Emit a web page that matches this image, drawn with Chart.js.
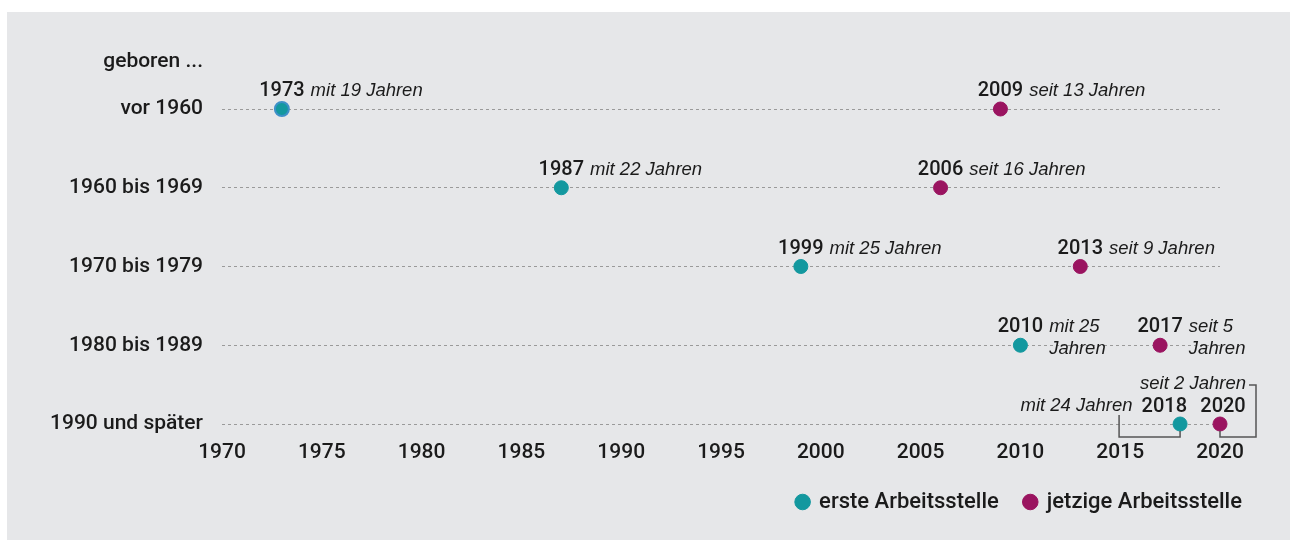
<!DOCTYPE html>
<html>
<head>
<meta charset="utf-8">
<script src="https://cdn.jsdelivr.net/npm/chart.js@4.4.0/dist/chart.umd.min.js"></script>
<style>
  html, body { margin: 0; padding: 0; background: #fff; }
  #wrap { width: 1290px; height: 540px; position: relative; }
</style>
</head>
<body>
<div id="wrap"><canvas id="chart"></canvas></div>
<script>
// data
const groups = ['vor 1960', '1960 bis 1969', '1970 bis 1979', '1980 bis 1989', '1990 und später'];
const firstJob = [1973, 1987, 1999, 2010, 2018];
const currentJob = [2009, 2006, 2013, 2017, 2020];
const firstNotes = ['mit 19 Jahren', 'mit 22 Jahren', 'mit 25 Jahren', 'mit 25 Jahren', 'mit 24 Jahren'];
const currentNotes = ['seit 13 Jahren', 'seit 16 Jahren', 'seit 9 Jahren', 'seit 5 Jahren', 'seit 2 Jahren'];
const xTicks = [1970, 1975, 1980, 1985, 1990, 1995, 2000, 2005, 2010, 2015, 2020];
const headerLabel = 'geboren ...';
const seriesNames = ['erste Arbeitsstelle', 'jetzige Arbeitsstelle'];

const TEAL = '#13989f';
const PLUM = '#9a1460';
const FONT = 'Roboto, "Liberation Sans", Arial, sans-serif';
const ITALIC = '"Liberation Sans", Arial, sans-serif';
const INK = '#1b1b1b';

// grey panel behind everything
const panelBg = {
  id: 'panelBg',
  beforeDraw(chart) {
    const ctx = chart.ctx;
    ctx.save();
    ctx.fillStyle = '#ffffff';
    ctx.fillRect(0, 0, chart.width, chart.height);
    ctx.fillStyle = '#e6e7e9';
    ctx.fillRect(7, 12, chart.width - 7, chart.height - 12);
    ctx.restore();
  }
};

// "geboren ..." header above the category labels
const header = {
  id: 'header',
  afterDraw(chart) {
    const ctx = chart.ctx;
    const area = chart.chartArea;
    ctx.save();
    ctx.font = '500 21px ' + FONT;
    ctx.fillStyle = INK;
    ctx.textAlign = 'right';
    ctx.textBaseline = 'middle';
    ctx.fillText(headerLabel, area.left - 19, area.top - 47);
    ctx.restore();
  }
};

// year + note labels next to each point
const pointLabels = {
  id: 'pointLabels',
  afterDatasetsDraw(chart) {
    const ctx = chart.ctx;
    const sets = [
      { values: firstJob, notes: firstNotes },
      { values: currentJob, notes: currentNotes }
    ];
    const yearFont = '500 20px ' + FONT;
    const noteFont = 'italic 18.5px ' + ITALIC;
    ctx.save();
    ctx.fillStyle = INK;
    ctx.textBaseline = 'alphabetic';
    sets.forEach((s, di) => {
      const meta = chart.getDatasetMeta(di);
      meta.data.forEach((pt, i) => {
        const year = String(s.values[i]);
        const note = s.notes[i];
        ctx.font = yearFont;
        const yw = ctx.measureText(year).width;
        const base = pt.y - 13;

        if (i === groups.length - 1) {
          // crowded last row: labels pulled aside with brackets
          ctx.strokeStyle = '#555';
          ctx.lineWidth = 1.5;
          if (di === 0) {
            ctx.textAlign = 'right';
            ctx.fillText(year, pt.x + 7, base + 1);
            ctx.font = noteFont;
            ctx.fillText(note, pt.x + 7 - yw - 9, base);
            ctx.beginPath();
            ctx.moveTo(pt.x, pt.y + 7);
            ctx.lineTo(pt.x, pt.y + 13);
            ctx.lineTo(pt.x - 61, pt.y + 13);
            ctx.lineTo(pt.x - 61, pt.y - 9);
            ctx.stroke();
          } else {
            ctx.textAlign = 'center';
            ctx.fillText(year, pt.x + 3, base + 1);
            ctx.textAlign = 'right';
            ctx.font = noteFont;
            ctx.fillText(note, pt.x + 26, pt.y - 35);
            ctx.beginPath();
            ctx.moveTo(pt.x, pt.y + 7);
            ctx.lineTo(pt.x, pt.y + 13);
            ctx.lineTo(pt.x + 36, pt.y + 13);
            ctx.lineTo(pt.x + 36, pt.y - 39);
            ctx.lineTo(pt.x + 29, pt.y - 39);
            ctx.stroke();
          }
          return;
        }

        ctx.textAlign = 'center';
        ctx.fillText(year, pt.x, base);
        ctx.textAlign = 'left';
        ctx.font = noteFont;
        const nx = pt.x + yw / 2 + 6;
        if (i === groups.length - 2) {
          // wrapped onto two lines
          const words = note.split(' ');
          const last = words.pop();
          ctx.fillText(words.join(' '), nx, base);
          ctx.fillText(last, nx, base + 22);
        } else {
          ctx.fillText(note, nx, base);
        }
      });
    });
    ctx.restore();
  }
};

const ctx = document.getElementById('chart');
new Chart(ctx, {
  type: 'scatter',
  data: {
    datasets: [
      {
        label: seriesNames[0],
        data: firstJob.map((v, i) => ({ x: v, y: groups[i] })),
        backgroundColor: TEAL,
        borderColor: firstJob.map((v, i) => i === 0 ? '#3d90c8' : TEAL),
        borderWidth: firstJob.map((v, i) => i === 0 ? 2 : 1),
        pointRadius: 7,
        pointHoverRadius: 7,
        clip: false
      },
      {
        label: seriesNames[1],
        data: currentJob.map((v, i) => ({ x: v, y: groups[i] })),
        backgroundColor: PLUM,
        borderColor: PLUM,
        borderWidth: 1,
        pointRadius: 7,
        pointHoverRadius: 7,
        clip: false
      }
    ]
  },
  options: {
    responsive: true,
    maintainAspectRatio: false,
    animation: false,
    events: [],
    layout: { padding: { top: 109, right: 22, bottom: 17, left: 0 } },
    scales: {
      x: {
        type: 'linear',
        min: 1970,
        max: 2020,
        afterBuildTicks: scale => { scale.ticks = xTicks.map(v => ({ value: v })); },
        afterFit: scale => { scale.height = 41; },
        grid: { display: false, drawTicks: false },
        border: { display: false },
        ticks: {
          padding: 16,
          color: INK,
          font: { family: FONT, size: 21, weight: '500' },
          callback: v => String(v)
        }
      },
      y: {
        type: 'category',
        labels: groups,
        offset: false,
        afterFit: scale => { scale.width = 222; },
        grid: { color: '#9a9a9a', lineWidth: 1, drawTicks: false },
        border: { display: false, dash: [3, 3] },
        ticks: {
          padding: 19,
          color: INK,
          font: { family: FONT, size: 21, weight: '500' }
        }
      },
      spacer: {
        type: 'linear',
        position: 'right',
        display: true,
        afterFit: scale => { scale.width = 48; },
        grid: { display: false, drawTicks: false },
        border: { display: false },
        ticks: { display: false }
      }
    },
    plugins: {
      tooltip: { enabled: false },
      legend: {
        position: 'bottom',
        align: 'end',
        labels: {
          usePointStyle: true,
          pointStyle: 'circle',
          boxWidth: 11,
          boxHeight: 11,
          padding: 26,
          color: INK,
          font: { family: FONT, size: 22, weight: '500' },
          generateLabels: chart => chart.data.datasets.map((ds, i) => ({
            text: ds.label,
            fillStyle: i === 0 ? TEAL : PLUM,
            strokeStyle: i === 0 ? TEAL : PLUM,
            lineWidth: 1,
            pointStyle: 'circle',
            datasetIndex: i,
            fontColor: INK
          }))
        }
      }
    }
  },
  plugins: [panelBg, header, pointLabels]
});
</script>
</body>
</html>
